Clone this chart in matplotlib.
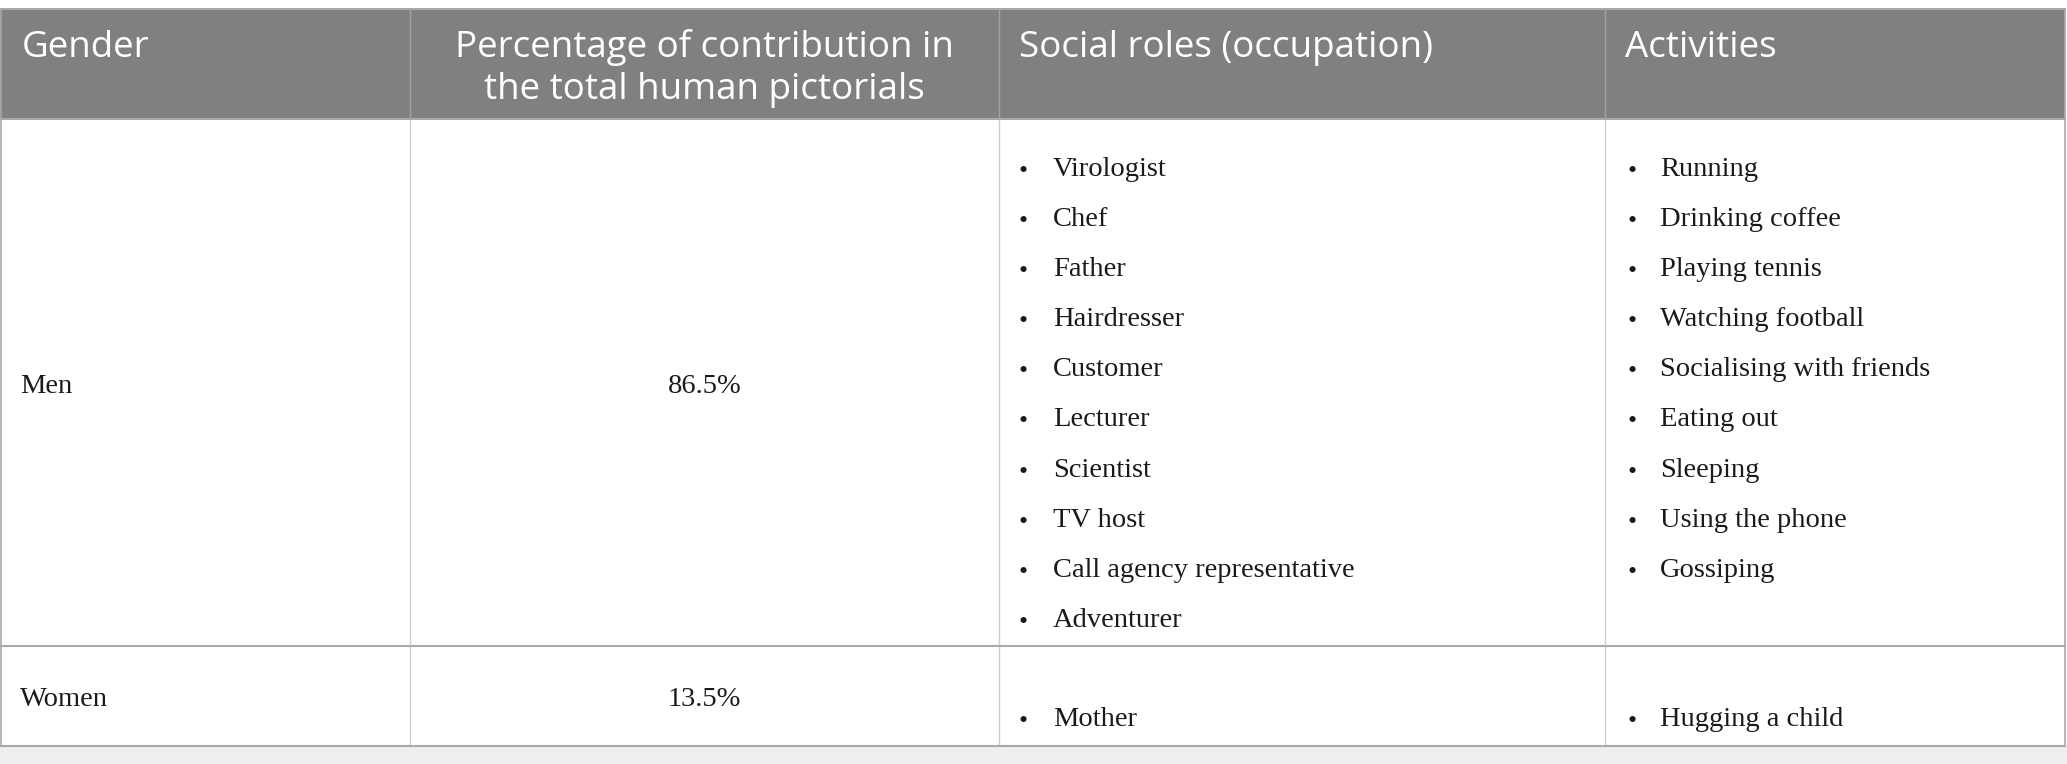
"""Table of gender representation in human pictorials, redrawn with matplotlib."""
import matplotlib

matplotlib.use("Agg")
import matplotlib.pyplot as plt  # noqa: E402
from matplotlib.patches import Rectangle  # noqa: E402

# ---- table content ----
headers = ["Gender", "Percentage of contribution in\nthe total human pictorials",
           "Social roles (occupation)", "Activities"]
genders = ["Men", "Women"]
shares = ["86.5%", "13.5%"]
men_roles = ["Virologist", "Chef", "Father", "Hairdresser", "Customer", "Lecturer",
             "Scientist", "TV host", "Call agency representative", "Adventurer"]
men_activities = ["Running", "Drinking coffee", "Playing tennis", "Watching football",
                  "Socialising with friends", "Eating out", "Sleeping",
                  "Using the phone", "Gossiping"]
women_roles = ["Mother"]
women_activities = ["Hugging a child"]

roles = [men_roles, women_roles]
activities = [men_activities, women_activities]

# ---- layout (pixels) ----
W, H = 2067, 764
col_x = [0, 410, 999, 1605, 2065]
top, head_bot = 8.5, 118.5
row_bot = [645.5, 745.5]
HEAD_BG = "#7f807f"
BORDER = "#a9a9a9"
INNER = "#cfcfcf"
TXT = "#1a1a1a"
SANS = ["Open Sans", "DejaVu Sans"]
SERIF = ["Liberation Serif", "DejaVu Serif"]
HEAD_FS = 26.5
BODY_FS = 20.5
ITEM_STEP = 50.1
HEAD_BASE = 57
HEAD_LEAD = 42

fig = plt.figure(figsize=(W / 100, H / 100), dpi=100)
ax = fig.add_axes([0, 0, 1, 1])
ax.set_xlim(0, W)
ax.set_ylim(H, 0)
ax.axis("off")

# light strip under the table
ax.add_patch(Rectangle((0, row_bot[-1]), W, H - row_bot[-1], color="#efefef", lw=0, zorder=0))
ax.add_patch(Rectangle((col_x[0], top), col_x[-1] - col_x[0], row_bot[-1] - top,
                       facecolor="white", lw=0, zorder=0.5))
# header band
ax.add_patch(Rectangle((col_x[0], top), col_x[-1] - col_x[0], head_bot - top,
                       facecolor=HEAD_BG, lw=0, zorder=1))

# grid lines
for x in col_x[1:-1]:
    ax.plot([x, x], [top, head_bot], color="#a3a3a3", lw=1, zorder=2)
    ax.plot([x, x], [head_bot, row_bot[-1]], color=INNER, lw=1, zorder=2)
for x in (col_x[0] + 0.5, col_x[-1]):
    ax.plot([x, x], [top, row_bot[-1]], color=BORDER, lw=1.2, zorder=3)
for y in [top, head_bot] + row_bot:
    ax.plot([col_x[0], col_x[-1]], [y, y], color=BORDER, lw=1.5, zorder=3)

# header text, one baseline per line
head_x = [col_x[0] + 22, (col_x[1] + col_x[2]) / 2, col_x[2] + 20, col_x[3] + 20]
head_ha = ["left", "center", "left", "left"]
for j, h in enumerate(headers):
    for k, line in enumerate(h.split("\n")):
        ax.text(head_x[j], HEAD_BASE + k * HEAD_LEAD, line, color="white",
                fontsize=HEAD_FS, family=SANS, va="baseline", ha=head_ha[j], zorder=4)

# body rows
row_top = [head_bot] + row_bot[:-1]
first_item = [176, 726]
bullet_dx = {2: 24, 3: 27}
text_dx = {2: 54, 3: 55}
for i, g in enumerate(genders):
    yb = (row_top[i] + row_bot[i]) / 2 + 11
    ax.text(col_x[0] + 20, yb, g, fontsize=BODY_FS, family=SERIF, color=TXT,
            va="baseline", ha="left", zorder=4)
    ax.text((col_x[1] + col_x[2]) / 2, yb, shares[i], fontsize=BODY_FS, family=SERIF,
            color=TXT, va="baseline", ha="center", zorder=4)
    for c, items in ((2, roles[i]), (3, activities[i])):
        for k, item in enumerate(items):
            y = first_item[i] + k * ITEM_STEP
            ax.text(col_x[c] + bullet_dx[c], y + 2, "\u2022", fontsize=BODY_FS * 0.9,
                    family=SERIF, color=TXT, va="baseline", ha="center", zorder=4)
            ax.text(col_x[c] + text_dx[c], y, item, fontsize=BODY_FS, family=SERIF,
                    color=TXT, va="baseline", ha="left", zorder=4)

fig.savefig("out.png", dpi=100)
